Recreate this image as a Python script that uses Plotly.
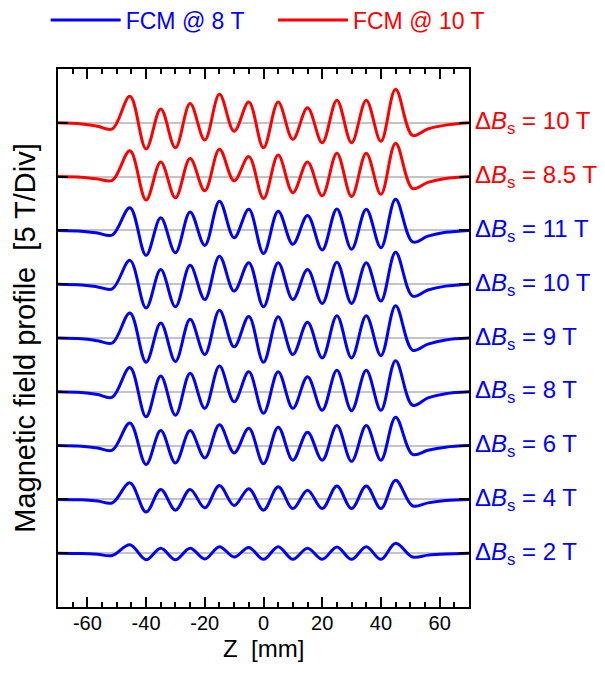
import plotly.graph_objects as go

# ---- data ----
Z_MM = [-70, -62, -56.5, -51.5, -45.5, -40, -35, -30, -25, -20, -15, -10, -5, 0,
        5, 10, 15, 20, 25, 30, 35, 40, 45, 50.8, 56, 62, 70]

# field deviation (T) relative to each profile's own baseline, top curve first
B_10T_FCM10 = [0, -0.3, -0.9, -1.6, 6.9, -6.8, 3.6, -6.5, 5.0, -4.5, 7.4, -2.2, 5.4, -6.5,
               5.4, -4.3, 3.9, -5.2, 5.9, -5.2, 5.9, -4.8, 8.7, -3.3, -1.6, -0.6, 0]
B_8p5T_FCM10 = [0, -0.2, -0.6, -1.0, 6.7, -6.1, 3.8, -5.5, 4.7, -3.7, 7.1, -1.1, 5.2, -5.7,
                5.6, -4.2, 3.8, -5.0, 6.1, -5.2, 6.1, -4.6, 8.7, -3.1, -1.5, -0.5, 0]
B_11T_FCM8 = [0, -0.2, -0.7, -1.2, 5.9, -6.5, 3.3, -5.8, 4.8, -3.9, 7.6, -1.9, 5.5, -6.0,
              5.0, -3.6, 3.9, -5.1, 5.6, -4.9, 5.5, -4.5, 8.1, -3.0, -1.5, -0.5, 0]
B_10T_FCM8 = [0, -0.2, -0.7, -1.2, 6.2, -6.2, 3.8, -5.9, 4.9, -4.0, 7.3, -1.8, 5.6, -5.9,
              5.6, -4.0, 3.8, -5.0, 5.7, -5.0, 5.6, -4.4, 8.3, -3.1, -1.5, -0.5, 0]
B_9T_FCM8 = [0, -0.2, -0.7, -1.3, 6.5, -6.3, 3.9, -6.1, 4.9, -4.3, 7.2, -2.3, 5.6, -6.3,
             5.5, -4.3, 4.1, -5.2, 5.8, -5.2, 5.8, -4.6, 8.4, -3.2, -1.6, -0.5, 0]
B_8T_FCM8 = [0, -0.2, -0.7, -1.4, 6.3, -6.5, 4.1, -6.1, 4.8, -4.3, 6.7, -2.6, 5.2, -5.6,
             5.2, -4.3, 3.9, -4.8, 5.6, -4.9, 5.6, -4.8, 8.1, -3.5, -1.6, -0.5, 0]
B_6T_FCM8 = [0, -0.2, -0.6, -1.2, 5.9, -4.9, 3.9, -4.5, 3.9, -3.2, 5.4, -1.9, 4.5, -4.7,
             4.8, -3.8, 3.5, -3.8, 5.2, -4.1, 5.2, -3.8, 7.4, -2.3, -1.2, -0.4, 0]
B_4T_FCM8 = [0, -0.1, -0.4, -0.9, 4.3, -3.3, 2.6, -2.8, 2.6, -2.2, 3.6, -1.6, 2.8, -2.8,
             3.3, -2.4, 2.4, -2.4, 3.5, -2.4, 3.5, -2.4, 5.0, -1.7, -0.9, -0.3, 0]
B_2T_FCM8 = [0, -0.1, -0.3, -0.6, 2.2, -1.7, 1.3, -1.7, 1.3, -1.5, 1.7, -1.0, 1.5, -1.6,
             1.7, -1.6, 1.3, -1.6, 1.6, -1.6, 1.7, -1.6, 2.6, -1.0, -0.5, -0.2, 0]

PROFILES = [B_10T_FCM10, B_8p5T_FCM10, B_11T_FCM8, B_10T_FCM8, B_9T_FCM8,
            B_8T_FCM8, B_6T_FCM8, B_4T_FCM8, B_2T_FCM8]
DELTA_BS = ["10", "8.5", "11", "10", "9", "8", "6", "4", "2"]
MAGNET = ["FCM @ 10 T", "FCM @ 10 T", "FCM @ 8 T", "FCM @ 8 T", "FCM @ 8 T",
          "FCM @ 8 T", "FCM @ 8 T", "FCM @ 8 T", "FCM @ 8 T"]
OFFSETS = [112, 98, 84, 70, 56, 42, 28, 14, 0]   # vertical stacking (T)
X_TICKS = [-60, -40, -20, 0, 20, 40, 60]
X_TICK_TEXT = ["-60", "-40", "-20", "0", "20", "40", "60"]

COLORS = {"FCM @ 8 T": "#0000ff", "FCM @ 10 T": "#ff0000"}
LEGEND_OF = {"FCM @ 8 T": "legend", "FCM @ 10 T": "legend2"}
FONT = "Liberation Sans, Arial, sans-serif"

fig = go.Figure()
shown = set()
for i in range(len(PROFILES)):
    prof, off, mag = PROFILES[i], OFFSETS[i], MAGNET[i]
    col = COLORS[mag]
    fig.add_trace(go.Scatter(
        x=Z_MM, y=[off + v for v in prof], mode="lines",
        line=dict(color=col, width=3, shape="spline", smoothing=1.0),
        name=f"<span style='color:{col}'>{mag}</span>",
        legend=LEGEND_OF[mag],
        legendgroup=mag, showlegend=mag not in shown, hoverinfo="skip"))
    shown.add(mag)

for lab, off, mag in zip(DELTA_BS, OFFSETS, MAGNET):
    fig.add_annotation(
        xref="paper", x=1, xanchor="left", xshift=4, yref="y", y=off, yanchor="middle",
        text=f"Δ<i>B</i><sub>s</sub> = {lab} T", showarrow=False,
        font=dict(family=FONT, size=24, color=COLORS[mag]))

# x-axis title placed as an annotation for exact vertical position
fig.add_annotation(
    xref="paper", x=0.5, xanchor="center", yref="paper", y=-0.077, yanchor="middle",
    text="Z\u00a0 [mm]", showarrow=False, font=dict(family=FONT, size=24, color="black"))

legend_style = dict(orientation="h", xanchor="left", y=1.091, yanchor="middle",
                    font=dict(family=FONT, size=23), itemwidth=70,
                    bgcolor="rgba(0,0,0,0)")

# the page body adds an 8 px offset, so the figure is 8 px smaller than the window
fig.update_layout(
    width=597, height=677,
    margin=dict(l=50, r=136, t=61, b=78, autoexpand=False),
    plot_bgcolor="white", paper_bgcolor="white",
    font=dict(family=FONT, color="black"),
    showlegend=True,
    legend=dict(x=-0.03, **legend_style),
    legend2=dict(x=0.523, **legend_style),
    xaxis=dict(range=[-70, 70], tickvals=X_TICKS, ticktext=X_TICK_TEXT,
               ticks="inside", ticklen=10, tickwidth=2,
               tickcolor="black", showline=True, linecolor="black", linewidth=2,
               mirror="ticks", showgrid=False, zeroline=False,
               minor=dict(dtick=5, tick0=0, ticks="inside", ticklen=5, tickwidth=2,
                          tickcolor="black", showgrid=False),
               tickfont=dict(size=20, family=FONT, color="black"),
               ticklabelstandoff=-3),
    yaxis=dict(range=[-14, 126], tickvals=OFFSETS, ticks="inside", ticklen=10, tickwidth=2,
               tickcolor="black", showticklabels=False, showline=True, linecolor="black",
               linewidth=2, mirror="ticks", showgrid=True, gridcolor="#c4c4c4", gridwidth=1.5,
               zeroline=False,
               title=dict(text="Magnetic field profile\u00a0 [5 T/Div]",
                          font=dict(size=29, family=FONT), standoff=12)),
)

fig.write_html("out.html")
